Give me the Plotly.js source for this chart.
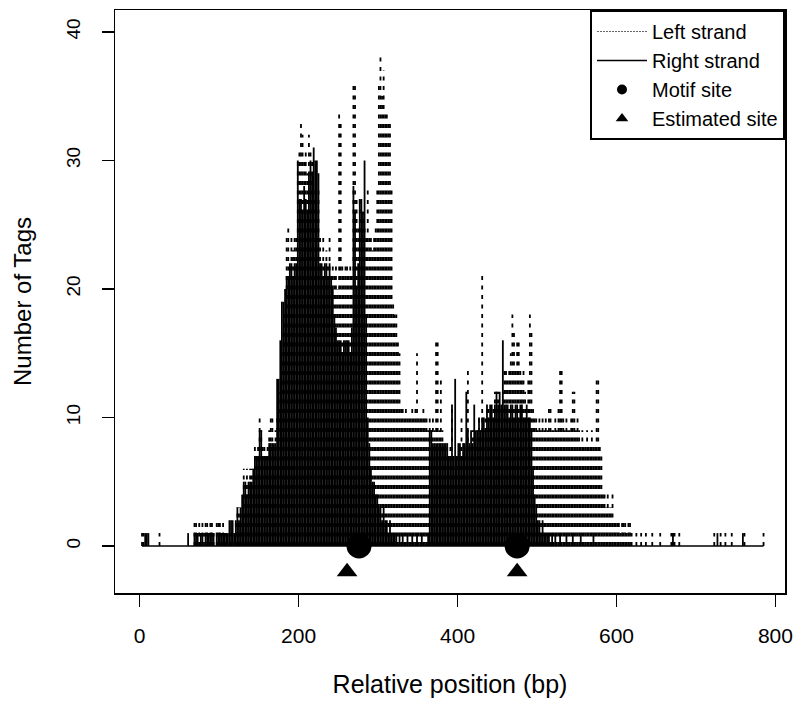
<!DOCTYPE html>
<html><head><meta charset="utf-8">
<script src="https://cdn.plot.ly/plotly-3.0.1.min.js"></script>
<style>html,body{margin:0;padding:0;background:#fff}#chart{width:794px;height:701px}</style>
</head><body><div id="chart"></div>
<script>
// Relative position grid (bp) of the count arrays below
const startBp = 1;
const stepBp = 2;

// Number of tags per position, left strand (dotted)
const leftStrand = [
  0,1,1,0,0,0,0,0,0,0,
  0,0,1,0,0,0,0,0,0,0,
  0,0,0,0,0,0,0,0,0,0,
  0,0,0,0,2,2,1,2,1,2,
  1,2,2,1,2,2,1,0,2,2,
  2,1,2,1,1,0,1,1,1,0,
  2,3,3,2,3,6,5,6,5,6,
  6,6,8,7,8,10,9,8,8,7,
  8,9,10,10,8,9,10,11,12,15,
  17,18,24,25,22,24,23,24,24,30,
  31,33,32,30,31,29,32,31,30,28,
  27,26,28,24,22,24,21,23,22,24,
  21,22,21,22,20,34,33,22,21,22,
  22,21,22,21,36,36,27,25,27,26,
  26,25,24,28,24,24,23,24,25,28,
  36,38,35,37,34,34,33,33,28,19,
  18,18,16,15,11,11,10,11,10,10,
  10,11,10,11,15,10,10,10,11,10,
  10,9,10,9,10,9,16,16,9,13,
  9,8,7,8,7,8,11,7,6,7,
  7,8,10,7,8,7,14,8,8,9,
  9,8,9,10,9,21,9,10,11,11,
  10,10,11,12,12,12,11,11,12,14,
  14,13,14,15,18,17,14,16,16,14,
  13,14,12,11,13,18,17,11,10,10,
  9,10,9,10,9,10,9,11,11,9,
  9,10,9,11,14,14,10,9,10,9,
  9,10,12,12,9,10,9,8,9,8,
  8,9,8,8,9,8,8,13,13,8,
  7,4,4,3,4,3,3,4,2,2,
  2,2,1,2,2,2,1,2,2,1,
  0,0,1,0,0,1,0,0,1,0,
  0,0,1,0,0,0,0,1,0,0,
  0,0,0,0,1,1,1,0,0,1,
  0,0,0,0,0,0,0,0,0,0,
  0,0,0,0,0,0,0,0,0,0,
  0,1,0,0,0,1,0,0,1,0,
  0,0,1,0,0,0,0,0,0,0,
  1,0,0,0,0,0,0,0,0,0,
  0,0,1,0,0
];

// Number of tags per position, right strand (solid)
const rightStrand = [
  0,0,0,1,1,1,0,0,0,0,
  0,0,0,0,0,0,0,0,0,0,
  0,0,0,0,0,0,0,0,0,0,
  1,0,0,0,1,1,1,0,1,1,
  0,1,1,1,1,1,1,0,1,1,
  1,1,1,1,1,1,2,2,2,1,
  2,3,2,3,4,5,5,4,5,5,
  5,6,7,7,7,9,9,7,7,7,
  7,8,8,8,8,8,13,13,16,19,
  19,20,21,21,22,22,21,22,22,30,
  27,27,26,28,27,26,29,30,29,31,
  30,30,29,22,22,21,22,22,21,22,
  21,20,18,17,16,16,16,15,16,16,
  16,16,15,17,28,26,20,22,27,27,
  26,30,18,10,8,6,5,5,4,4,
  3,3,2,3,2,2,1,2,1,1,
  1,1,0,1,0,1,0,0,1,0,
  0,1,0,0,1,0,0,1,0,0,
  0,1,9,9,8,8,8,8,8,8,
  8,8,8,8,7,7,11,7,13,7,
  8,8,7,8,8,12,9,8,9,8,
  11,9,9,10,9,10,10,9,11,10,
  11,11,10,11,12,11,12,11,16,11,
  11,11,10,11,11,10,11,11,10,11,
  11,10,10,11,10,10,9,6,4,3,
  2,2,1,2,1,1,1,1,0,1,
  0,1,0,0,1,0,0,0,1,0,
  0,0,1,0,0,0,0,1,0,0,
  0,0,0,0,0,1,0,0,0,0,
  0,0,0,0,0,0,0,0,0,0,
  0,0,0,0,0,0,0,0,0,0,
  0,0,0,0,0,0,0,0,0,0,
  0,0,0,0,0,0,0,0,0,0,
  0,0,0,0,0,1,0,0,0,0,
  0,0,0,0,0,0,0,0,0,0,
  0,0,0,0,0,0,0,0,0,0,
  0,0,0,1,0,0,0,0,0,0,
  0,0,0,0,0,0,0,0,0,1,
  0,0,0,0,0,0,0,0,0,0,
  0,0,0,0,0
];

const motifSites = [276, 475];
const motifLevel = [0, 0];
const estimatedSites = [261, 475];
const estimatedLevel = [-2, -2];

const xTicks = [0, 200, 400, 600, 800];
const yTicks = [0, 10, 20, 30, 40];

const positions = leftStrand.map((_, i) => startBp + stepBp * i);

function spikes(values) {
  const xs = [], ys = [];
  values.forEach((v, i) => {
    if (v > 0) { xs.push(positions[i], positions[i], null); ys.push(0, v, null); }
  });
  return {xs, ys};
}
const L = spikes(leftStrand), R = spikes(rightStrand);

let firstIdx = positions.length, lastIdx = -1;
positions.forEach((p, i) => {
  if (leftStrand[i] > 0 || rightStrand[i] > 0) { firstIdx = Math.min(firstIdx, i); lastIdx = Math.max(lastIdx, i); }
});

const FONT = 'Liberation Sans, Arial, sans-serif';

const traces = [
  {x: L.xs, y: L.ys, mode: 'lines', type: 'scatter', showlegend: false, hoverinfo: 'skip',
   line: {color: '#000', width: 1.8, dash: '4px,5.5px'}},
  {x: R.xs, y: R.ys, mode: 'lines', type: 'scatter', showlegend: false, hoverinfo: 'skip',
   line: {color: '#000', width: 1.8}},
  {x: [positions[firstIdx], positions[lastIdx]], y: [0, 0], mode: 'lines', type: 'scatter',
   showlegend: false, hoverinfo: 'skip', line: {color: '#000', width: 1.5}},
  {x: motifSites, y: motifLevel, mode: 'markers', type: 'scatter', showlegend: false,
   marker: {symbol: 'circle', size: 25, color: '#000'}},
  {x: estimatedSites, y: estimatedLevel, mode: 'markers', type: 'scatter', showlegend: false,
   marker: {symbol: 'triangle-up', size: 18, color: '#000'}},
  // legend entries
  {x: [null], y: [null], mode: 'lines', type: 'scatter', name: 'Left strand',
   line: {color: '#666', width: 1, dash: '2px,1px'}},
  {x: [null], y: [null], mode: 'lines', type: 'scatter', name: 'Right strand',
   line: {color: '#000', width: 1.5}},
  {x: [null], y: [null], mode: 'markers', type: 'scatter', name: 'Motif site',
   marker: {symbol: 'circle', size: 10, color: '#000'}},
  {x: [null], y: [null], mode: 'markers', type: 'scatter', name: 'Estimated site',
   marker: {symbol: 'triangle-up', size: 11, color: '#000'}}
];

const layout = {
  width: 794, height: 701,
  margin: {l: 115, r: 9, t: 10, b: 108, pad: 0},
  paper_bgcolor: '#fff', plot_bgcolor: '#fff',
  font: {family: FONT, color: '#000', size: 21},
  showlegend: true,
  legend: {x: 1, y: 1, xanchor: 'right', yanchor: 'top', bgcolor: '#fff', itemwidth: 50,
           bordercolor: '#000', borderwidth: 2, font: {family: FONT, size: 20, color: '#000'}},
  xaxis: {range: [-31, 812], tickvals: xTicks, ticktext: xTicks.map(String),
          ticks: 'outside', ticklen: 12, tickwidth: 1.5, tickcolor: '#000',
          showline: true, mirror: true, linewidth: 1.5, linecolor: '#000',
          showgrid: false, zeroline: false, automargin: false,
          tickfont: {size: 21}, ticklabelstandoff: 11,
          title: {text: 'Relative position (bp)', font: {size: 25}, standoff: 30}},
  yaxis: {range: [-3.66, 41.7], tickvals: yTicks, ticktext: yTicks.map(String),
          ticks: 'outside', ticklen: 12, tickwidth: 1.5, tickcolor: '#000',
          showline: true, mirror: true, linewidth: 1.5, linecolor: '#000',
          showgrid: false, zeroline: false, automargin: false, tickangle: -90,
          tickfont: {size: 19}, ticklabelstandoff: 14,
          title: {text: 'Number of Tags', font: {size: 24}, standoff: 24}}
};

Plotly.newPlot('chart', traces, layout, {staticPlot: true, displayModeBar: false});
</script>
</body></html>
